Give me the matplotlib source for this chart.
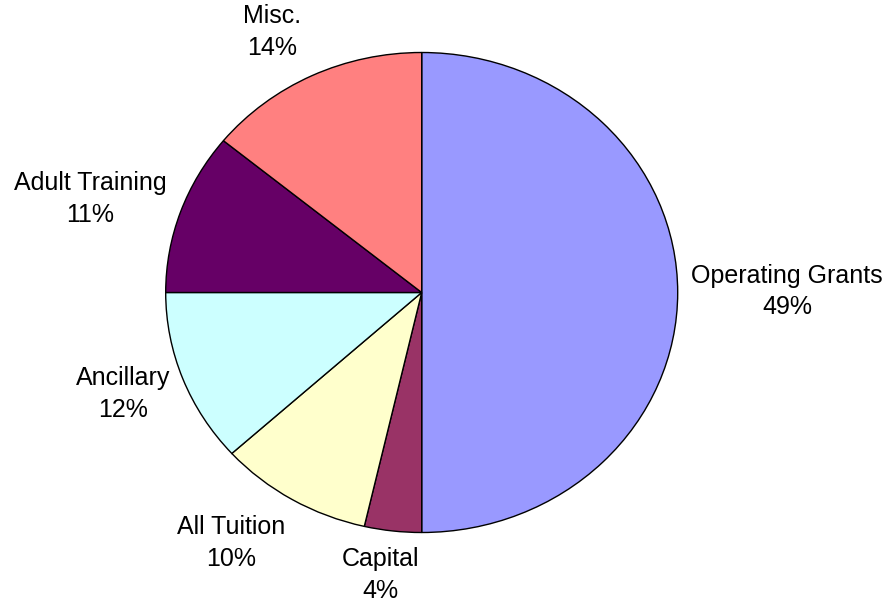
import numpy as np
import matplotlib.pyplot as plt

plt.rcParams['font.family'] = ['Liberation Sans', 'DejaVu Sans']

categories = ['Operating Grants', 'Capital', 'All Tuition', 'Ancillary', 'Adult Training', 'Misc.']
values = [50.0, 3.6, 9.7, 11.7, 10.9, 14.1]
pct_labels = ['49%', '4%', '10%', '12%', '11%', '14%']
colors = ['#9999FF', '#993366', '#FFFFCC', '#CCFFFF', '#660066', '#FF8080']

# label placement: distance from centre and small angle nudge (degrees)
label_dist = [1.427, 1.188, 1.283, 1.241, 1.353, 1.233]
label_nudge = [0.2, -1.4, -5.1, -1.1, 2.9, 2.9]

fig = plt.figure(figsize=(8.85, 6.02), dpi=100)
ax = fig.add_axes([0, 0, 1, 1])

wedges, _ = ax.pie(values, colors=colors, startangle=90, counterclock=False,
                   wedgeprops=dict(edgecolor='black', linewidth=1.0))

for w, name, pct, d, nd in zip(wedges, categories, pct_labels, label_dist, label_nudge):
    mid = np.deg2rad((w.theta1 + w.theta2) / 2 + nd)
    ax.text(d * np.cos(mid), d * np.sin(mid), f"{name}\n{pct}",
            ha='center', va='center', fontsize=18, linespacing=1.4)

# pie is drawn slightly wider than tall, centred at (421.7, 292.5) px
ax.set_aspect('auto')
ax.set_xlim(-421.7 / 256, (885 - 421.7) / 256)
ax.set_ylim(-309.5 / 240, 292.5 / 240)
ax.axis('off')

fig.savefig('out.png', dpi=100)
